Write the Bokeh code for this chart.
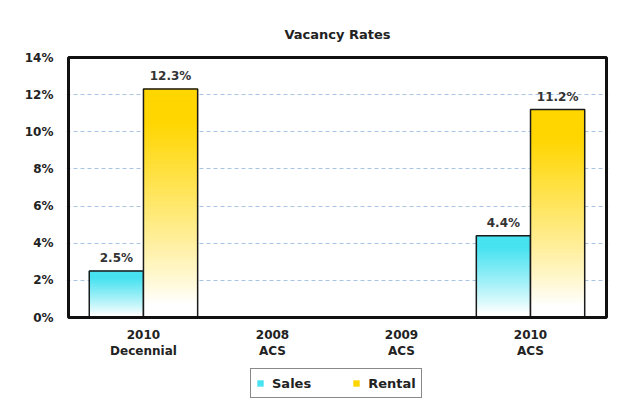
from bokeh.plotting import figure
from bokeh.models import (ColumnDataSource, FixedTicker, Range1d, LabelSet,
                          Legend, LegendItem)
from bokeh.core.properties import value
from bokeh.embed import file_html
from bokeh.resources import INLINE
import math

# ---- data ----
categories = ["2010\nDecennial", "2008\nACS", "2009\nACS", "2010\nACS"]
sales = [2.5, float("nan"), float("nan"), 4.4]
rental = [12.3, float("nan"), float("nan"), 11.2]
y_ticks = [0, 2, 4, 6, 8, 10, 12, 14]
y_tick_labels = ["0%", "2%", "4%", "6%", "8%", "10%", "12%", "14%"]

SALES_COLOR = (72, 226, 240)
RENTAL_COLOR = (255, 214, 0)
FONT = "DejaVu Sans"

# ---- layout geometry (pixels) ----
PX_X = 129.0            # pixels per category
PX_Y = 260.0 / 14.0     # pixels per percent
PAD = 2                 # frame margin around the drawn plot box
BOX_L, BOX_R = -0.581, 3.589     # plot box in category units
Y_MIN, Y_MAX = 0, 14
BELOW_PX = 88           # room below the plot box for tick labels + legend

x_start = BOX_L - PAD / PX_X
x_end = BOX_R + PAD / PX_X
y_start = Y_MIN - BELOW_PX / PX_Y
y_end = Y_MAX + PAD / PX_Y
frame_w = int(round((x_end - x_start) * PX_X))
frame_h = int(round((y_end - y_start) * PX_Y))

p = figure(frame_width=frame_w, frame_height=frame_h,
           x_range=Range1d(x_start, x_end), y_range=Range1d(y_start, y_end),
           output_backend="svg", toolbar_location=None,
           min_border_left=66, min_border_right=6, min_border_top=55,
           min_border_bottom=4, title="Vacancy Rates")

p.title.align = "center"
p.title.text_font = FONT
p.title.text_font_size = "13px"
p.title.text_font_style = "bold"
p.title.text_color = "#222222"
p.title.standoff = 27

p.outline_line_color = None
p.background_fill_color = "white"
p.border_fill_color = "white"

# grid
p.xgrid.grid_line_color = None
p.ygrid.ticker = FixedTicker(ticks=y_ticks[1:-1])
p.ygrid.grid_line_color = "#a9c4e4"
p.ygrid.grid_line_dash = "4 3"
p.ygrid.grid_line_width = 1

# axes
p.xaxis.visible = False
p.yaxis.ticker = FixedTicker(ticks=y_ticks)
p.yaxis.major_label_overrides = {t: l for t, l in zip(y_ticks, y_tick_labels)}
p.yaxis.axis_line_color = None
p.yaxis.major_tick_line_color = None
p.yaxis.minor_tick_line_color = None
p.yaxis.major_label_text_font = FONT
p.yaxis.major_label_text_font_size = "12px"
p.yaxis.major_label_text_font_style = "bold"
p.yaxis.major_label_text_color = "#222222"
p.yaxis.major_label_standoff = 7

# category labels under the plot box
cat_src = ColumnDataSource(dict(x=list(range(len(categories))),
                                y=[Y_MIN] * len(categories), text=categories))
p.text(x="x", y="y", text="text", source=cat_src, y_offset=10,
       text_align="center", text_baseline="top", text_line_height=1.2,
       text_font=value(FONT), text_font_size="12px", text_font_style="bold",
       text_color="#222222")

# gradient bars built from the data
BAR_W = 0.42
N = 70


def mix(c, f):
    r = int(round(255 + (c[0] - 255) * f))
    g = int(round(255 + (c[1] - 255) * f))
    b = int(round(255 + (c[2] - 255) * f))
    return "#%02x%02x%02x" % (r, g, b)


def gradient_strips(values, offset, color):
    left, right, bottom, top, fill = [], [], [], [], []
    for i, v in enumerate(values):
        if v is None or math.isnan(v):
            continue
        for k in range(N):
            b0 = v * k / N
            t0 = v * (k + 1) / N
            t = (k + 0.5) / N
            f = min(1.0, max(0.0, (t - 0.06) / 0.8)) ** 0.9
            left.append(i + offset - BAR_W / 2)
            right.append(i + offset + BAR_W / 2)
            bottom.append(b0)
            top.append(t0)
            fill.append(mix(color, f))
    return ColumnDataSource(dict(left=left, right=right, bottom=bottom, top=top, fill=fill))


def bar_source(values, offset):
    xs, ys, labels = [], [], []
    for i, v in enumerate(values):
        if v is None or math.isnan(v):
            continue
        xs.append(i + offset)
        ys.append(v)
        labels.append("%.1f%%" % v)
    return ColumnDataSource(dict(x=xs, top=ys, label=labels))


for values, offset, color in ((sales, -BAR_W / 2, SALES_COLOR), (rental, BAR_W / 2, RENTAL_COLOR)):
    p.quad(left="left", right="right", bottom="bottom", top="top", fill_color="fill",
           line_color="fill", line_width=1, source=gradient_strips(values, offset, color))
    src = bar_source(values, offset)
    p.vbar(x="x", top="top", width=BAR_W, bottom=0, fill_color=None,
           line_color="#1a1a1a", line_width=1.5, source=src)
    p.add_layout(LabelSet(x="x", y="top", text="label", source=src, y_offset=6,
                          text_align="center", text_baseline="bottom",
                          text_font=value(FONT), text_font_size=value("12px"),
                          text_font_style="bold", text_color="#333333"))

# plot box border
p.quad(left=[BOX_L], right=[BOX_R], bottom=[Y_MIN], top=[Y_MAX],
       fill_color=None, line_color="#111111", line_width=3)

# legend (off-screen proxy renderers give filled squares in the legend)
r_s = p.quad(left=[0], right=[0.1], bottom=[-100], top=[-99],
             fill_color=mix(SALES_COLOR, 1.0), line_color=None)
r_r = p.quad(left=[0], right=[0.1], bottom=[-100], top=[-99],
             fill_color=mix(RENTAL_COLOR, 1.0), line_color=None)
legend = Legend(items=[LegendItem(label="Sales", renderers=[r_s]),
                       LegendItem(label="Rental", renderers=[r_r])],
                orientation="horizontal", location=(184, 7))
legend.label_text_font = FONT
legend.label_text_font_size = "13px"
legend.label_text_font_style = "bold"
legend.label_text_color = "#222222"
legend.border_line_color = "#111111"
legend.border_line_width = 1.5
legend.glyph_width = 8
legend.glyph_height = 8
legend.label_height = 18
legend.spacing = 41
legend.padding = 5
legend.margin = 0
legend.label_standoff = 8
p.add_layout(legend, "center")

open("out.html", "w").write(file_html(p, INLINE))
